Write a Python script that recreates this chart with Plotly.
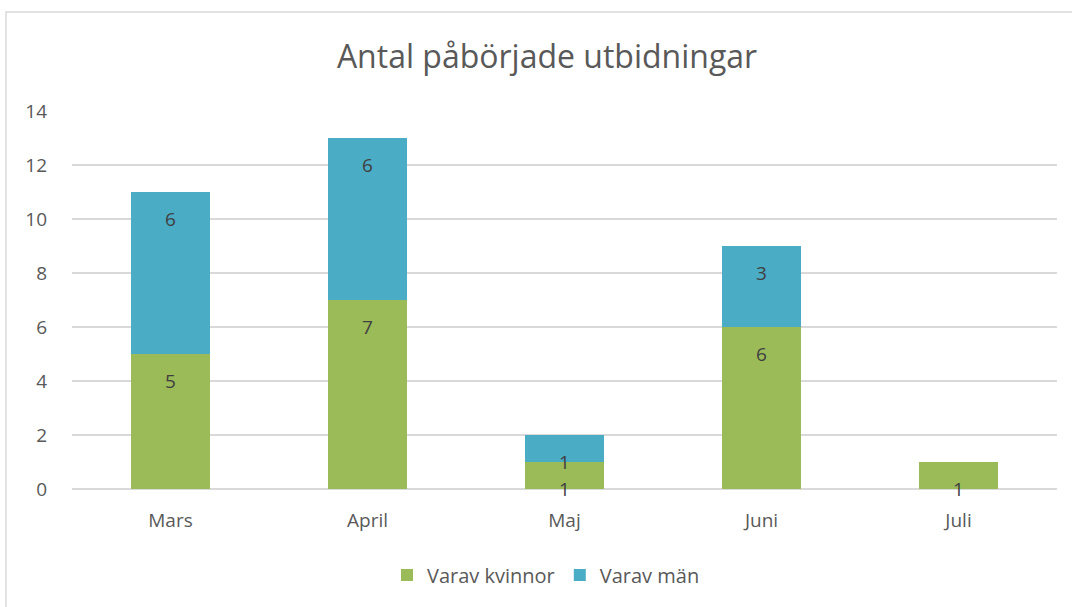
import plotly.graph_objects as go

months = ["Mars", "April", "Maj", "Juni", "Juli"]
kvinnor = [5, 7, 1, 6, 1]
man = [6, 6, 1, 3, 0]
series_names = ["Varav kvinnor", "Varav män"]
title_text = "Antal påbörjade utbidningar"
y_ticks = [0, 2, 4, 6, 8, 10, 12, 14]

GREEN = "#9BBB59"
BLUE = "#4BACC6"
FONT = "Open Sans"

fig = go.Figure()
fig.add_trace(go.Bar(x=months, y=kvinnor, name=series_names[0], marker=dict(color=GREEN, line=dict(width=0))))
fig.add_trace(go.Bar(x=months, y=[v if v else None for v in man], name=series_names[1], marker=dict(color=BLUE, line=dict(width=0))))

# Data labels at "inside end" like Excel
annotations = []
for i, m in enumerate(months):
    cum = 0
    for vals in (kvinnor, man):
        v = vals[i]
        cum += v
        if v:
            annotations.append(dict(x=m, y=cum, xref="x", yref="y", text=str(v), showarrow=False,
                                    yshift=-27, font=dict(family=FONT, size=19, color="#404040")))

W, H = 1072, 607
L, R, T, B = 72, 15, 111, 118
pw = W - L - R
ph = H - T - B

fig.update_layout(
    width=W, height=H,
    barmode="stack",
    bargap=0.6,
    plot_bgcolor="white",
    paper_bgcolor="white",
    margin=dict(l=L, r=R, t=T, b=B),
    title=dict(text=title_text, x=547 / W, xref="container", xanchor="center",
               y=1 - 57 / H, yref="container", yanchor="middle",
               font=dict(family=FONT, size=32, color="#595959")),
    font=dict(family=FONT, color="#595959", size=19),
    xaxis=dict(showgrid=False, showline=False, ticks="", tickfont=dict(size=19, color="#595959"), ticklabelstandoff=18),
    yaxis=dict(range=[0, 14], tickvals=y_ticks, showgrid=True, gridcolor="#D9D9D9", gridwidth=1.5,
               zeroline=True, zerolinecolor="#D9D9D9", zerolinewidth=1.5, showline=False, ticks="",
               tickfont=dict(size=19, color="#595959"), ticklabelstandoff=24),
    legend=dict(orientation="h", x=(546 - L) / pw, xanchor="center", y=-(575 - 489) / ph, yanchor="middle",
                font=dict(size=20, color="#595959"), traceorder="normal", itemwidth=30),
    annotations=annotations,
    showlegend=True,
    shapes=[dict(type="rect", xref="paper", yref="paper",
                 x0=(6 - L) / pw, x1=(W + 5 - L) / pw,
                 y0=-(H + 5 - (T + ph)) / ph, y1=1 + (T - 12) / ph,
                 line=dict(color="#D9D9D9", width=1.5), fillcolor="rgba(0,0,0,0)", layer="below")],
)

fig.write_html("out.html", config={"displayModeBar": False},
               post_script="document.body.style.margin='0';document.body.style.overflow='hidden';")
